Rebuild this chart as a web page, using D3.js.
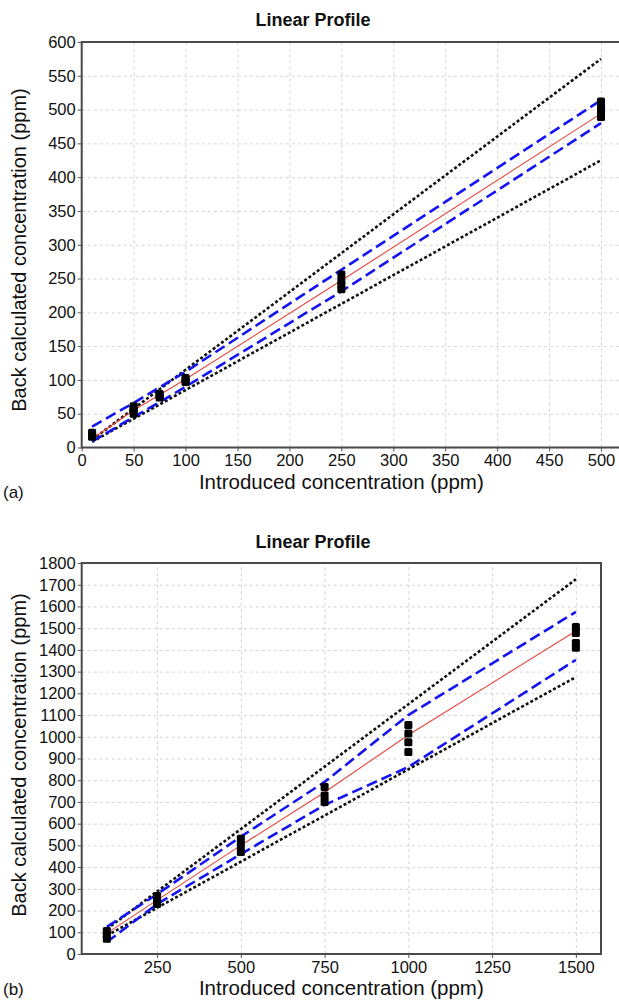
<!DOCTYPE html>
<html>
<head>
<meta charset="utf-8">
<script src="https://cdn.jsdelivr.net/npm/d3@7"></script>
<style>
  html, body { margin: 0; padding: 0; background: #fff; }
  svg { display: block; font-family: "Liberation Sans", Arial, Helvetica, sans-serif; }
</style>
</head>
<body>
<svg id="chart" width="619" height="1000"></svg>
<script>
// ---------- Data: panel (a) ----------
const aLevels      = [10, 50, 75, 100, 250, 500];
const aReplicates  = [[16, 19, 22], [50, 54, 58, 61], [74, 77, 79], [97, 100, 103], [234, 240, 247, 256], [489, 495, 500, 506, 512]];
const aMean        = [13, 55, 78, 101, 247, 494];
const aToleranceUp = [31, 66, 89, 112, 263, 514];
const aToleranceLo = [9, 45, 67, 90, 231, 480];
const aAcceptUp    = [11.5, 57.5, 86.25, 115, 287.5, 575];
const aAcceptLo    = [8.5, 42.5, 63.75, 85, 212.5, 425];
const aXTicks      = [0, 50, 100, 150, 200, 250, 300, 350, 400, 450, 500];
const aYTicks      = [0, 50, 100, 150, 200, 250, 300, 350, 400, 450, 500, 550, 600];

// ---------- Data: panel (b) ----------
const bLevels      = [100, 250, 500, 750, 1000, 1500];
const bReplicates  = [[70, 88, 106], [230, 248, 267], [470, 500, 530], [700, 730, 769], [930, 975, 1015, 1054], [1410, 1432, 1478, 1505]];
const bMean        = [95, 248, 500, 745, 1008, 1487];
const bToleranceUp = [125, 275, 540, 792, 1100, 1575];
const bToleranceLo = [55, 230, 460, 686, 861, 1354];
const bAcceptUp    = [115, 287.5, 575, 862.5, 1150, 1725];
const bAcceptLo    = [85, 212.5, 425, 637.5, 850, 1275];
const bXTicks      = [250, 500, 750, 1000, 1250, 1500];
const bYTicks      = [0, 100, 200, 300, 400, 500, 600, 700, 800, 900, 1000, 1100, 1200, 1300, 1400, 1500, 1600, 1700, 1800];

const titleText = "Linear Profile";
const xTitle = "Introduced concentration (ppm)";
const yTitle = "Back calculated concentration (ppm)";

const svg = d3.select("#chart");

function drawPanel(p) {
  const x = d3.scaleLinear().domain(p.xDomain).range([p.left, p.right]);
  const y = d3.scaleLinear().domain(p.yDomain).range([p.bottom, p.top]);
  const g = svg.append("g");
  const clipId = "clip" + p.id;
  g.append("clipPath").attr("id", clipId).append("rect")
    .attr("x", p.left).attr("y", p.top).attr("width", p.right - p.left).attr("height", p.bottom - p.top);

  // grid
  const gx = g.append("g").attr("transform", `translate(0,${p.bottom})`)
    .call(d3.axisBottom(x).tickValues(p.xTicks).tickSize(-(p.bottom - p.top)).tickFormat(""));
  const gy = g.append("g").attr("transform", `translate(${p.left},0)`)
    .call(d3.axisLeft(y).tickValues(p.yTicks).tickSize(-(p.right - p.left)).tickFormat(""));
  [gx, gy].forEach(a => {
    a.select(".domain").remove();
    a.selectAll("line").attr("stroke", "#d4d4d4").attr("stroke-width", 1).attr("stroke-dasharray", "3,3");
  });

  // tick axes
  const ax = g.append("g").attr("transform", `translate(0,${p.bottom})`)
    .call(d3.axisBottom(x).tickValues(p.xTicks).tickSize(4).tickPadding(3).tickFormat(d3.format("d")));
  const ay = g.append("g").attr("transform", `translate(${p.left},0)`)
    .call(d3.axisLeft(y).tickValues(p.yTicks).tickSize(4).tickPadding(2).tickFormat(d3.format("d")));
  [ax, ay].forEach(a => {
    a.select(".domain").remove();
    a.selectAll("line").attr("stroke", "#555");
    a.selectAll("text").attr("fill", "#111").style("font-size", "16.5px").style("font-family", "'Liberation Sans', Arial, sans-serif");
  });

  const plot = g.append("g").attr("clip-path", `url(#${clipId})`);
  const line = d3.line().x(d => x(d[0])).y(d => y(d[1]));
  const series = (vals) => p.levels.map((lv, i) => [lv, vals[i]]);

  // acceptance limits (black dotted)
  [p.accUp, p.accLo].forEach(v => {
    plot.append("path").attr("d", line(series(v))).attr("fill", "none")
      .attr("stroke", "#111").attr("stroke-width", 2.6).attr("stroke-dasharray", "3,2.2");
  });
  // tolerance (blue dashed)
  [p.tolUp, p.tolLo].forEach(v => {
    plot.append("path").attr("d", line(series(v))).attr("fill", "none")
      .attr("stroke", "#1414f0").attr("stroke-width", 2.6).attr("stroke-dasharray", "11,5");
  });
  // mean (red)
  plot.append("path").attr("d", line(series(p.mean))).attr("fill", "none")
    .attr("stroke", "#e8453c").attr("stroke-width", 1.1);

  // replicates
  const pts = [];
  p.levels.forEach((lv, i) => p.reps[i].forEach(v => pts.push([lv, v])));
  plot.selectAll("rect.pt").data(pts).join("rect").attr("class", "pt")
    .attr("x", d => x(d[0]) - 4).attr("y", d => y(d[1]) - 4)
    .attr("width", 8).attr("height", 8).attr("rx", 1.5)
    .attr("fill", "#000");

  // frame
  g.append("rect").attr("x", p.left).attr("y", p.top)
    .attr("width", p.right - p.left).attr("height", p.bottom - p.top)
    .attr("fill", "none").attr("stroke", "#4a4a4a").attr("stroke-width", 2);

  // titles
  g.append("text").attr("x", p.titleX).attr("y", p.titleY).attr("text-anchor", "middle")
    .style("font-size", "18px").style("font-weight", "bold").attr("fill", "#111").text(titleText);
  g.append("text").attr("x", (p.left + Math.min(p.right, 601)) / 2).attr("y", p.xTitleY).attr("text-anchor", "middle")
    .style("font-size", "20.5px").attr("fill", "#111").text(xTitle);
  g.append("text").attr("transform", `translate(26,${p.yTitleC}) rotate(-90)`)
    .attr("text-anchor", "middle").style("font-size", "20px").attr("fill", "#111").text(yTitle);
  g.append("text").attr("x", 3).attr("y", p.tagY).style("font-size", "17px").attr("fill", "#111").text(p.tag);
}

drawPanel({
  id: "a", tag: "(a)", levels: aLevels, reps: aReplicates, mean: aMean,
  tolUp: aToleranceUp, tolLo: aToleranceLo, accUp: aAcceptUp, accLo: aAcceptLo,
  xTicks: aXTicks, yTicks: aYTicks,
  xDomain: [0, 520], yDomain: [0, 600],
  left: 81.7, right: 621.8, top: 42, bottom: 447.5,
  titleX: 313, titleY: 26, xTitleY: 489, tagY: 498, yTitleC: 250
});

drawPanel({
  id: "b", tag: "(b)", levels: bLevels, reps: bReplicates, mean: bMean,
  tolUp: bToleranceUp, tolLo: bToleranceLo, accUp: bAcceptUp, accLo: bAcceptLo,
  xTicks: bXTicks, yTicks: bYTicks,
  xDomain: [25, 1575], yDomain: [0, 1800],
  left: 81.7, right: 601, top: 563, bottom: 954,
  titleX: 313, titleY: 548, xTitleY: 995, tagY: 995, yTitleC: 755
});
</script>
</body>
</html>
